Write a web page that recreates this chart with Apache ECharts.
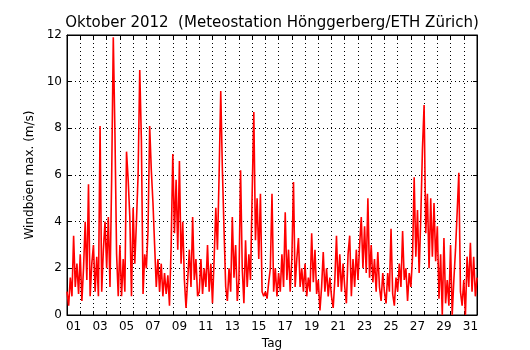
<!DOCTYPE html>
<html>
<head>
<meta charset="utf-8">
<script src="https://cdn.jsdelivr.net/npm/echarts@6/dist/echarts.min.js"></script>
<style>
html,body{margin:0;padding:0;background:#fff;}
#c{width:530px;height:350px;}
</style>
</head>
<body>
<div id="c"></div>
<script>
// Day labels (category axis, one per day of October 2012)
var dayLabels = ['01','02','03','04','05','06','07','08','09','10','11','12','13','14','15','16',
  '17','18','19','20','21','22','23','24','25','26','27','28','29','30','31'];
// y ticks
var yMin = 0, yMax = 12, yStep = 2;
// samples per day (3-hour steps), m/s
var samplesPerDay = 8;
var gust = [
  1.0, 0.4, 1.6, 0.8, 3.4, 1.2, 2.2, 0.9,
  2.6, 0.6, 2.0, 4.0, 1.5, 5.6, 0.8, 2.2,
  3.0, 1.0, 2.5, 0.8, 8.1, 1.0, 2.8, 4.0,
  2.0, 4.2, 1.2, 5.8, 11.9, 7.8, 2.6, 0.8,
  3.0, 0.8, 2.4, 1.0, 7.0, 5.8, 4.2, 0.8,
  4.6, 2.2, 4.0, 6.0, 10.5, 7.5, 0.9, 2.6,
  2.0, 3.6, 8.1, 6.2, 4.8, 3.0, 1.2, 2.4,
  1.0, 2.2, 0.8, 1.8, 0.9, 1.7, 0.4, 3.0,
  6.9, 3.5, 5.8, 2.8, 6.6, 2.2, 4.0, 1.5,
  0.3, 1.5, 2.8, 1.2, 4.2, 1.5, 2.4, 0.8,
  1.0, 2.4, 0.9, 2.0, 1.2, 3.0, 1.0, 2.2,
  0.5, 2.4, 4.6, 2.8, 6.0, 9.6, 6.2, 3.6,
  1.2, 0.6, 2.0, 1.0, 4.2, 1.6, 3.0, 0.6,
  1.5, 6.2, 2.0, 0.5, 3.2, 1.2, 2.6, 1.5,
  5.2, 8.7, 3.2, 5.0, 2.4, 5.2, 1.0, 0.8,
  1.0, 0.7, 1.4, 2.0, 5.2, 1.0, 2.0, 0.8,
  1.8, 1.0, 2.6, 1.2, 4.4, 1.5, 2.8, 1.0,
  2.4, 5.7, 1.2, 2.4, 3.3, 1.2, 2.0, 1.0,
  2.2, 0.8, 1.6, 1.0, 3.5, 1.4, 2.8, 0.9,
  1.5, 0.2, 1.2, 2.7, 1.0, 2.0, 0.8, 1.6,
  0.8, 0.3, 1.5, 3.4, 1.2, 2.6, 1.0, 2.2,
  1.2, 0.5, 2.6, 3.4, 0.8, 2.4, 1.2, 2.8,
  1.5, 3.0, 4.2, 2.0, 3.8, 1.8, 5.0, 1.6,
  3.0, 1.4, 2.4, 1.0, 2.7, 1.2, 0.6, 1.8,
  1.0, 0.5, 1.8, 1.0, 3.7, 0.9, 0.4, 1.6,
  1.0, 2.2, 1.2, 3.6, 1.5, 2.0, 0.6, 1.8,
  1.2, 2.5, 5.9, 2.5, 4.5, 1.8, 4.2, 7.1,
  9.0, 3.5, 5.2, 2.0, 5.0, 2.5, 4.8, 2.3,
  3.8, 0.7, 2.6, 0.0, 3.3, 0.5, 1.5, 0.4,
  3.0, 0.0, 1.5, 2.8, 4.4, 6.1, 1.0, 0.4,
  1.5, 0.0, 2.5, 1.2, 3.1, 1.0, 2.5, 0.8,
  1.6
];

var seriesData = gust.map(function (v, i) { return [i / samplesPerDay, v]; });

var FONT = 'DejaVu Sans';
var dotted = { color: '#000', width: 1, type: [1, 3] };

var chart = echarts.init(document.getElementById('c'), null, { renderer: 'canvas' });
chart.setOption({
  animation: false,
  backgroundColor: '#fff',
  title: {
    text: 'Oktober 2012  (Meteostation Hönggerberg/ETH Zürich)',
    left: 267, top: 11, textAlign: 'center',
    textStyle: { fontFamily: FONT, fontSize: 15, fontWeight: 'normal', color: '#000' }
  },
  grid: { left: 67, right: 53, top: 35, bottom: 35, show: true, borderColor: '#000', borderWidth: 1,
          containLabel: false, outerBoundsMode: 'none' },
  xAxis: [
    {
      type: 'category', data: dayLabels, boundaryGap: true, position: 'bottom',
      name: 'Tag', nameLocation: 'middle', nameGap: 21,
      nameTextStyle: { fontFamily: FONT, fontSize: 12, color: '#000' },
      axisLine: { show: true, lineStyle: { color: '#000', width: 1 } },
      axisTick: { show: true, inside: true, length: 4, interval: 0, lineStyle: { color: '#000' } },
      axisLabel: { interval: 1, margin: 6, fontFamily: FONT, fontSize: 12, color: '#000' },
      splitLine: { show: true, interval: 0, lineStyle: dotted }
    },
    { type: 'value', min: 0, max: 31, show: false },
    {
      type: 'category', data: dayLabels, boundaryGap: true, position: 'top',
      axisLine: { show: true, lineStyle: { color: '#000', width: 1 } },
      axisTick: { show: true, inside: true, length: 4, interval: 0, lineStyle: { color: '#000' } },
      axisLabel: { show: false }, splitLine: { show: false }
    }
  ],
  yAxis: [
    {
      type: 'value', min: yMin, max: yMax, interval: yStep, position: 'left',
      name: 'Windböen max. (m/s)', nameLocation: 'middle', nameGap: 25,
      nameTextStyle: { fontFamily: FONT, fontSize: 12, color: '#000' },
      axisLine: { show: true, lineStyle: { color: '#000', width: 1 } },
      axisTick: { show: true, inside: true, length: 4, lineStyle: { color: '#000' } },
      axisLabel: { margin: 5, fontFamily: FONT, fontSize: 12, color: '#000' },
      splitLine: { show: true, lineStyle: dotted }
    },
    {
      type: 'value', min: yMin, max: yMax, interval: yStep, position: 'right',
      axisLine: { show: true, lineStyle: { color: '#000', width: 1 } },
      axisTick: { show: true, inside: true, length: 4, lineStyle: { color: '#000' } },
      axisLabel: { show: false }, splitLine: { show: false }
    }
  ],
  series: [{
    type: 'line', xAxisIndex: 1, yAxisIndex: 0, data: seriesData,
    showSymbol: false, symbol: 'none',
    lineStyle: { color: '#ff0000', width: 1.6 },
    clip: true
  }]
});
</script>
</body>
</html>
